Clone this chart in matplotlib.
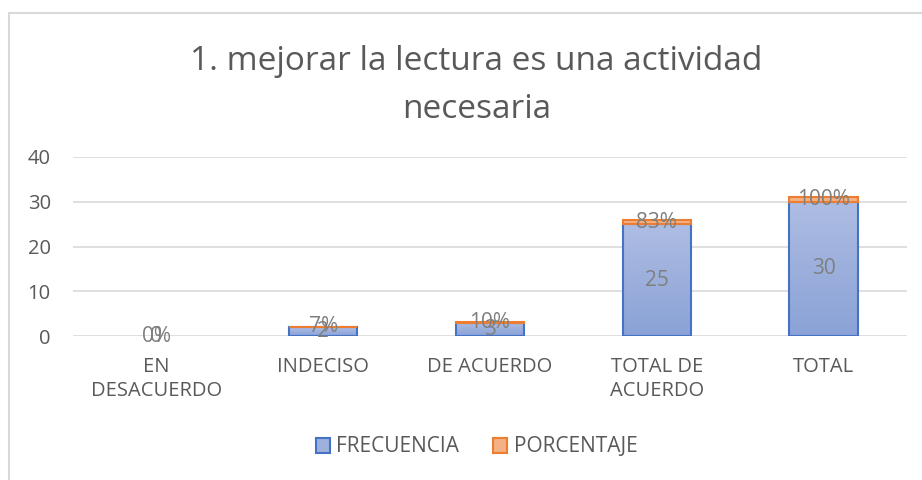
import numpy as np
import matplotlib
matplotlib.use("Agg")
import matplotlib.pyplot as plt
from matplotlib.patches import Rectangle, Patch

categories = ["EN\nDESACUERDO", "INDECISO", "DE ACUERDO", "TOTAL DE\nACUERDO", "TOTAL"]
frecuencia = [0, 2, 3, 25, 30]
porcentaje = [0.00, 0.07, 0.10, 0.83, 1.00]
pct_labels = ["0%", "7%", "10%", "83%", "100%"]

plt.rcParams["font.family"] = ["Open Sans", "DejaVu Sans"]
gray = "#595959"
lbl_gray = "#7f7f7f"
cx = 476.5 / 922  # centre of the chart area (it runs past the right edge)

fig = plt.figure(figsize=(9.22, 4.80), dpi=100)
# chart frame (only left and top edges are visible in the original)
fig.patches.append(Rectangle((9 / 922, -0.1), 1.1, 1 - 13 / 480 + 0.1, transform=fig.transFigure,
                             fill=False, edgecolor="#d9d9d9", linewidth=1.5, zorder=0))

ax = fig.add_axes([73 / 922, 0.3, 834 / 922, 179 / 480])
x = np.arange(len(categories))
w = 0.41

# blue bars with a vertical gradient
grad = np.linspace(0, 1, 256).reshape(-1, 1)
cmap = matplotlib.colors.LinearSegmentedColormap.from_list("g", ["#8aa2d6", "#aebde3"])
for xi, v in zip(x, frecuencia):
    if v <= 0:
        continue
    im = ax.imshow(grad, extent=[xi - w / 2, xi + w / 2, 0, v], origin="lower",
                   aspect="auto", cmap=cmap, zorder=2)
    r = Rectangle((xi - w / 2, 0), w, v, fill=False, edgecolor="#4472c4", linewidth=1.5, zorder=3)
    ax.add_patch(r)
    im.set_clip_path(r)

for xi, v, p in zip(x, frecuencia, porcentaje):
    if p <= 0:
        continue
    ax.bar(xi, p, w, bottom=v, color="#f4b183", edgecolor="#ed7d31", linewidth=1.5, zorder=3)

for xi, v, p, pl in zip(x, frecuencia, porcentaje, pct_labels):
    ax.text(xi, v / 2, str(v), ha="center", va="center", fontsize=15, color=lbl_gray, zorder=5)
    ax.text(xi, v + p / 2, pl, ha="center", va="center", fontsize=15, color=lbl_gray, zorder=5)

ax.set_xlim(-0.5, len(categories) - 0.5)
ax.set_ylim(0, 40)
ax.set_yticks([0, 10, 20, 30, 40])
ax.yaxis.grid(True, color="#d9d9d9", linewidth=1.2)
ax.set_axisbelow(True)
for s in ax.spines.values():
    s.set_visible(False)
ax.tick_params(length=0, labelsize=14.5, colors=gray)
ax.tick_params(axis="y", pad=16)
ax.tick_params(axis="x", pad=15)
ax.set_xticks(x)
ax.set_xticklabels(categories, linespacing=1.25)

fig.text(cx, 1 - 85 / 480, "1. mejorar la lectura es una actividad\nnecesaria", ha="center",
         va="center", fontsize=24, color=gray, linespacing=1.6)

handles = [Patch(facecolor="#9eb1de", edgecolor="#4472c4", linewidth=1.5),
           Patch(facecolor="#f4b183", edgecolor="#ed7d31", linewidth=1.5)]
fig.legend(handles, ["FRECUENCIA", "PORCENTAJE"], loc="center", bbox_to_anchor=(cx, 1 - 447 / 480),
           ncol=2, frameon=False, fontsize=15, labelcolor=gray, handlelength=0.7, handleheight=0.7,
           handletextpad=0.3, columnspacing=1.6)

fig.savefig("out.png", dpi=100)
